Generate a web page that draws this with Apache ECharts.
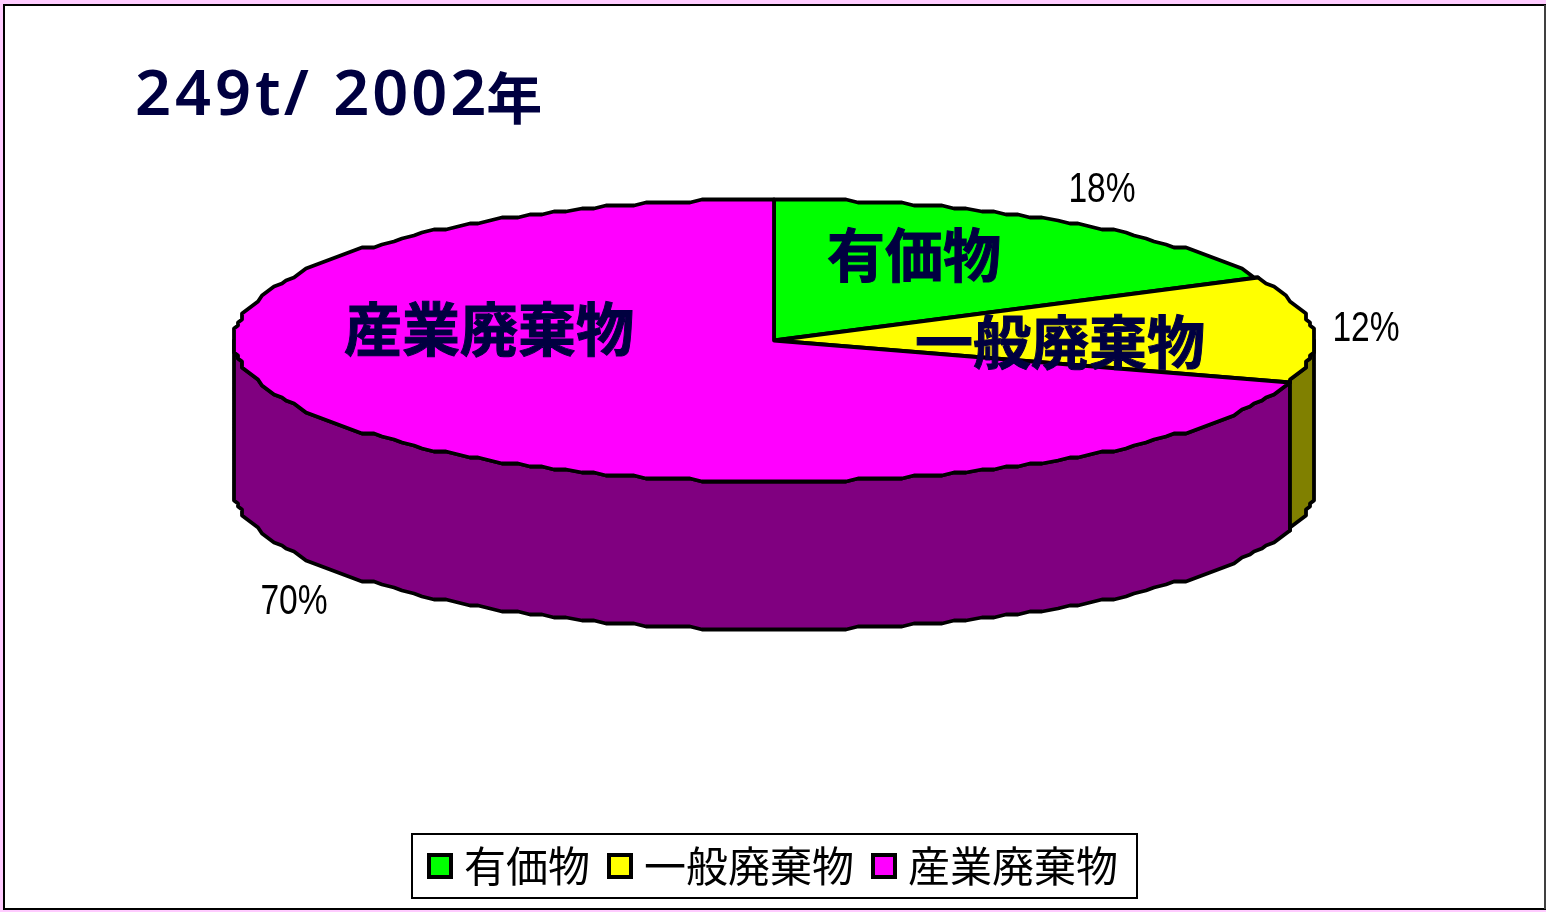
<!DOCTYPE html>
<html><head><meta charset="utf-8">
<style>html,body{margin:0;padding:0;background:#ffccff;}#c{width:1546px;height:912px;}</style>
<script src="https://cdn.jsdelivr.net/npm/echarts@6/dist/echarts.min.js"></script>
</head><body><div id="c"></div>
<script>
const titleChars = ['2','4','9','t','/',' ','2','0','0','2','年'];
const categories = ['有価物','一般廃棄物','産業廃棄物'];
const shares = [17.7,12,70.3];
const topColors = ['#00ff00','#ffff00','#ff00ff'];
const sideColors = ['#008000','#808000','#800080'];

const CJK = '"Noto Sans CJK JP"';
const NAVY = '#000040';
const cx = 774, cy = 340.5, rx = 540, ry = 141, depth = 148, snapX = 4, snapY = 3, step = 1.5;
const total = shares.reduce((a,b)=>a+b,0);
const nameAnchors = [[914,255],[1060,342],[489,329]];
const pctAnchors = [[1102,190],[1366,329],[294,602]];

function pt(deg, dy){
  const r = deg*Math.PI/180;
  const dx = Math.round(rx*Math.sin(r)/snapX)*snapX;
  const dyy = Math.round(-ry*Math.cos(r)/snapY)*snapY;
  return [cx+dx, cy+dyy+(dy||0)];
}
function arc(a,b,dy){
  const lo=Math.min(a,b), hi=Math.max(a,b), angles=[lo];
  for(let t=Math.ceil(lo/step+1e-6)*step; t<hi-1e-6; t+=step) angles.push(t);
  angles.push(hi);
  if(a>b) angles.reverse();
  return angles.map(t=>pt(t,dy));
}
const stroke = {stroke:'#000',lineWidth:3.8,lineJoin:'round'};

function makeSeries(i, part){
  let start=0; for(let k=0;k<i;k++) start+=shares[k];
  const a0=start/total*360, a1=(start+shares[i])/total*360;
  return {
    type:'custom', name:categories[i], coordinateSystem:'none', silent:true,
    itemStyle:{color:topColors[i]},
    z: part==='side'?2:(part==='top'?3:5),
    data:[[shares[i]]],
    renderItem(params, api){
      const kids=[];
      if(part==='side'){
        const s=Math.max(a0,90), e=Math.min(a1,270);
        if(e>s){
          const poly=arc(s,e,0).concat(arc(e,s,depth));
          kids.push({type:'polygon',shape:{points:poly},style:Object.assign({fill:sideColors[i]},stroke)});
        }
      } else if(part==='top'){
        const poly=[[cx,cy]].concat(arc(a0,a1,0));
        kids.push({type:'polygon',shape:{points:poly},style:Object.assign({fill:topColors[i]},stroke)});
      } else {
        kids.push({type:'text',style:{x:nameAnchors[i][0],y:nameAnchors[i][1],text:categories[i],
          font:'bold 58px '+CJK,fill:NAVY,stroke:NAVY,lineWidth:1,align:'center',verticalAlign:'middle'}});
        kids.push({type:'text',x:pctAnchors[i][0],y:pctAnchors[i][1],scaleX:0.8,style:{x:0,y:0,text:Math.round(api.value(0))+'%',
          font:'42px "Liberation Sans"',fill:'#000',align:'center',verticalAlign:'middle'}});
      }
      return {type:'group',children:kids};
    }
  };
}

const series=[];
[2,1,0].forEach(i=>series.push(makeSeries(i,'side')));
[0,1,2].forEach(i=>series.push(makeSeries(i,'top')));
[0,1,2].forEach(i=>series.push(makeSeries(i,'label')));

const latin = {fontSize:63,fontFamily:'Noto Sans',fontWeight:600,color:NAVY};
const titleRich = {
  d:Object.assign({padding:[0,4,0,0]},latin),
  g:Object.assign({padding:[0,3,0,0]},latin),
  t:Object.assign({padding:[0,3,0,0]},latin),
  s:Object.assign({padding:[0,4,0,0]},latin),
  e:latin,
  k:{fontSize:56,fontFamily:CJK,fontWeight:600,color:NAVY}
};
const titleText = titleChars.map((c,i)=>{
  if(c==='年') return '{k|'+c+'}';
  if(c==='t') return '{t|'+c+'}';
  if(c===' ') return '{s|'+c+'}';
  if(i===9) return '{e|'+c+'}';
  return (i>5?'{g|':'{d|')+c+'}';
}).join('');

const chart = echarts.init(document.getElementById('c'),null,{renderer:'canvas'});
chart.setOption({
  animation:false,
  backgroundColor:'transparent',
  title:{text:titleText,left:135,top:66,padding:0,textStyle:{rich:titleRich,color:NAVY,fontSize:63,fontWeight:600,fontFamily:'Noto Sans'}},
  legend:{
    data:categories, left:412, top:834, orient:'horizontal',
    padding:[11,19,11,15], itemGap:17, itemWidth:22, itemHeight:22,
    backgroundColor:'#fff', borderColor:'#000', borderWidth:2,
    icon:'rect',
    itemStyle:{borderColor:'#000',borderWidth:4},
    textStyle:{fontFamily:CJK,fontSize:42,color:'#000',padding:[0,0,0,8]},
    selectedMode:false
  },
  graphic:[{type:'rect',z:-10,silent:true,shape:{x:4,y:5,width:1541,height:904},
    style:{fill:'#fff',stroke:'#000',lineWidth:2}},
    {type:'line',z:-9,silent:true,shape:{x1:1545,y1:5,x2:1545,y2:909},style:{stroke:'#404040',lineWidth:2}}],
  series
});
</script></body></html>
